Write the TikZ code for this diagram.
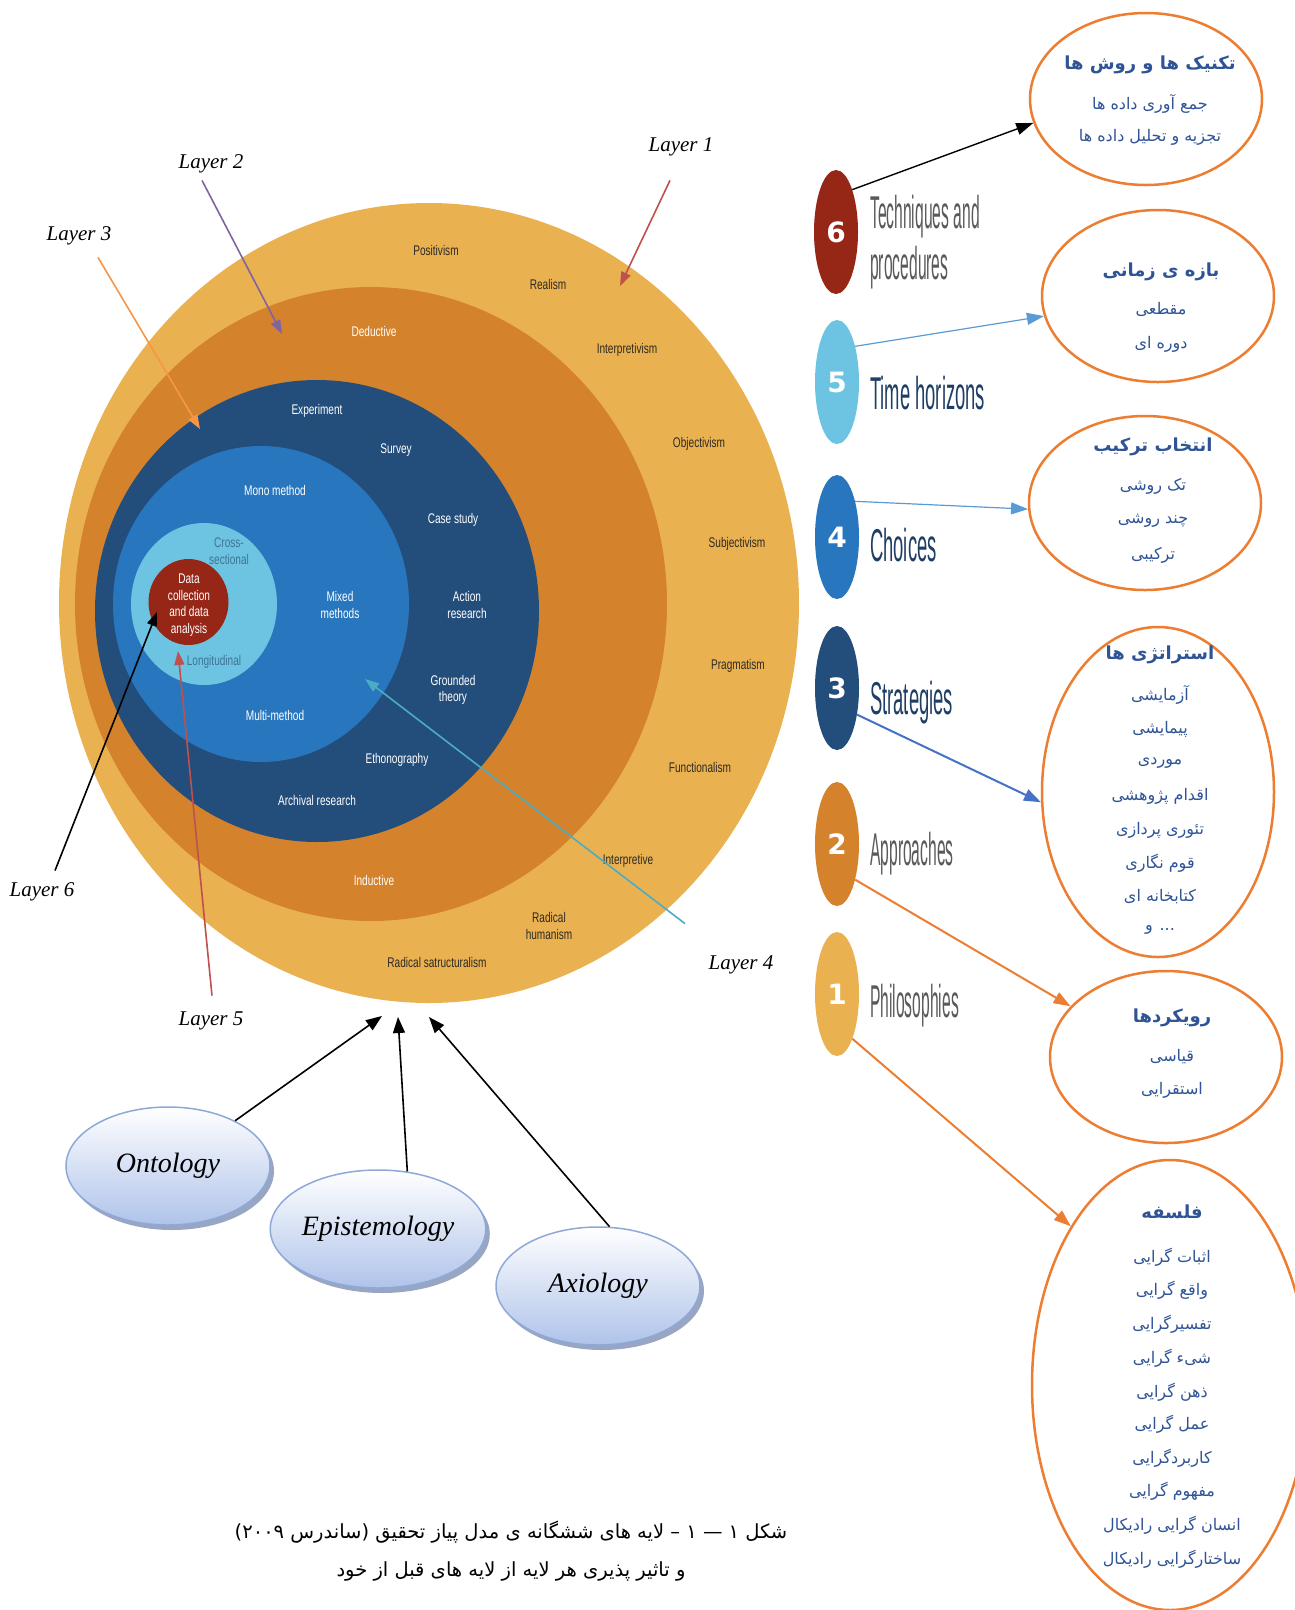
\documentclass[tikz,border=0pt]{standalone}
\usepackage{fontspec}
\setmainfont{Liberation Serif}
\newfontfamily\onionfont[FakeStretch=0.72]{Liberation Sans}
\newfontfamily\graystepfont[FakeStretch=0.34]{Liberation Sans}
\newfontfamily\bluestepfont[FakeStretch=0.40]{Liberation Sans}
\newfontfamily\digitfont{DejaVu Sans}
\newfontfamily\persianfont[Script=Arabic]{DejaVu Sans}
\TeXXeTstate=1
\usetikzlibrary{shapes.geometric,arrows.meta,shadows}

% onion layers
\definecolor{layerA}{HTML}{E9B150}
\definecolor{layerB}{HTML}{D4822C}
\definecolor{layerC}{HTML}{234D7A}
\definecolor{layerD}{HTML}{2876BE}
\definecolor{layerE}{HTML}{6DC4E2}
\definecolor{layerF}{HTML}{962616}
\definecolor{darktext}{HTML}{2E2A24}
\definecolor{paletext}{HTML}{3D7494}
% layer pointers
\definecolor{arrA}{HTML}{C0504D}
\definecolor{arrB}{HTML}{8064A2}
\definecolor{arrC}{HTML}{F79646}
\definecolor{arrD}{HTML}{4BACC6}
% side labels and boxes
\definecolor{stepgray}{HTML}{5A5A5A}
\definecolor{stepblue}{HTML}{1F3E66}
\definecolor{boxorange}{HTML}{ED7D31}
\definecolor{fablue}{HTML}{2F5496}
\definecolor{linkblue}{HTML}{5B9BD5}
\definecolor{linkblueB}{HTML}{4472C4}
% ontology ellipses
\definecolor{ellborder}{HTML}{8EA9D8}
\definecolor{ellbottom}{HTML}{AFC3EA}
\definecolor{ellshadow}{HTML}{7F90B5}

\newcommand\rtlline[1]{\beginR #1\endR}
% parentheses set in a left-to-right font so they keep their drawn shape
\newcommand\lpar{\hbox{\digitfont (}}
\newcommand\rpar{\hbox{\digitfont )}}

\begin{document}
\begin{tikzpicture}[x=1pt,y=-1pt,
  layer/.style={ellipse,inner sep=0pt,draw=none},
  onion/.style={font=\onionfont\fontsize{14}{16.5}\selectfont,align=center,inner sep=0pt},
  ondark/.style={onion,text=darktext},
  onwhite/.style={onion,text=white},
  onpale/.style={onion,text=paletext},
  layerlbl/.style={font=\itshape\fontsize{21}{24}\selectfont,inner sep=0pt},
  ptr/.style={line width=1.6pt,-{Triangle[length=14pt,width=10pt]}},
  numb/.style={ellipse,inner sep=0pt,minimum width=44pt,minimum height=124pt,
    text=white,font=\digitfont\bfseries\fontsize{28}{28}\selectfont},
  graystep/.style={anchor=base west,inner sep=0pt,text=stepgray,
    font=\graystepfont\fontsize{46}{46}\selectfont},
  bluestep/.style={anchor=base west,inner sep=0pt,text=stepblue,
    font=\bluestepfont\fontsize{46}{46}\selectfont},
  pbox/.style={ellipse,inner sep=0pt,draw=boxorange,line width=2.5pt},
  fatitle/.style={inner sep=0pt,text=fablue,
    font=\persianfont\bfseries\fontsize{18}{22}\selectfont},
  faitem/.style={inner sep=0pt,text=fablue,
    font=\persianfont\fontsize{16}{20}\selectfont},
  link/.style={-{Triangle[length=17pt,width=12pt]}},
  ology/.style={ellipse,minimum width=204pt,minimum height=118pt,inner sep=0pt,
    draw=ellborder,line width=1.5pt,top color=white,bottom color=ellbottom,
    drop shadow={shadow xshift=4pt,shadow yshift=-5pt,fill=ellshadow,opacity=0.8},
    font=\itshape\fontsize{28}{30}\selectfont},
  caption/.style={inner sep=0pt,font=\persianfont\fontsize{19.5}{24}\selectfont}
]
\useasboundingbox (0,0) rectangle (1295,1610);
\fill[white] (0,0) rectangle (1295,1610);

% ---------- the research onion ----------
\node[layer,fill=layerA,minimum width=740pt,minimum height=800pt] (L1) at (429,603) {};
\node[layer,fill=layerB,minimum width=592pt,minimum height=634pt] (L2) at (371,604) {};
\node[layer,fill=layerC,minimum width=444pt,minimum height=462pt] (L3) at (317,611) {};
\node[layer,fill=layerD,minimum width=296pt,minimum height=316pt] (L4) at (261,604) {};
\node[layer,fill=layerE,minimum width=146pt,minimum height=162pt] (L5) at (204,604) {};
\node[layer,fill=layerF,minimum width=80pt,minimum height=86pt] (L6) at (188.5,602) {};

% philosophies
\node[ondark] (positivism) at (436,250) {Positivism};
\node[ondark] (realism) at (548,284) {Realism};
\node[ondark] (interpretivism) at (627,350) {Interpretivism};
\node[ondark] (objectivism) at (699,444) {Objectivism};
\node[ondark] (subjectivism) at (737,544) {Subjectivism};
\node[ondark] (pragmatism) at (738,666) {Pragmatism};
\node[ondark] (functionalism) at (700,767) {Functionalism};
\node[ondark] (interpretive) at (628,861) {Interpretive};
\node[ondark] (humanism) at (549,926) {Radical\\humanism};
\node[ondark] (structuralism) at (437,962) {Radical satructuralism};
% approaches
\node[onwhite] (deductive) at (374,331) {Deductive};
\node[onwhite] (inductive) at (374,880) {Inductive};
% strategies
\node[onwhite] (experiment) at (317,411) {Experiment};
\node[onwhite] (survey) at (396,450) {Survey};
\node[onwhite] (casestudy) at (453,520) {Case study};
\node[onwhite] (action) at (467,605) {Action\\research};
\node[onwhite] (grounded) at (453,690) {Grounded\\theory};
\node[onwhite] (ethno) at (397,760) {Ethonography};
\node[onwhite] (archival) at (317,800) {Archival research};
% choices
\node[onwhite] (mono) at (275,490) {Mono method};
\node[onwhite] (mixed) at (340,605) {Mixed\\methods};
\node[onwhite] (multi) at (275,715) {Multi-method};
% time horizons
\node[onpale] (cross) at (229,551) {Cross-\\sectional};
\node[onpale] (longi) at (214,662) {Longitudinal};
% techniques
\node[onwhite] (datacoll) at (189,605) {Data\\collection\\and data\\analysis};

% ---------- layer pointers ----------
\coordinate (tip1) at (620,286);
\coordinate (tip2) at (282,334);
\coordinate (tip3) at (200,429);
\coordinate (tip4) at (365,679);
\coordinate (tip5) at (178,651);
\coordinate (tip6) at (157,612);
\node[layerlbl] (lay1) at (681,147) {Layer 1};
\node[layerlbl] (lay2) at (211,164) {Layer 2};
\node[layerlbl] (lay3) at (79,236) {Layer 3};
\node[layerlbl] (lay4) at (741,965) {Layer 4};
\node[layerlbl] (lay5) at (211,1021) {Layer 5};
\node[layerlbl] (lay6) at (42,892) {Layer 6};
\draw[ptr,arrA] ([xshift=-11pt,yshift=-24pt]lay1.south) -- (tip1);
\draw[ptr,arrB] ([xshift=-9pt,yshift=-7pt]lay2.south) -- (tip2);
\draw[ptr,arrC] ([xshift=19pt,yshift=-12pt]lay3.south) -- (tip3);
\draw[ptr,arrD] ([xshift=-56pt,yshift=32pt]lay4.north) -- (tip4);
\draw[ptr,arrA] ([xshift=1pt,yshift=16pt]lay5.north) -- (tip5);
\draw[ptr,black] ([xshift=13pt,yshift=12pt]lay6.north) -- (tip6);

% ---------- ontology, epistemology, axiology ----------
\node[ology] (onto) at (168,1166) {Ontology};
\node[ology] (epis) at (378,1229) {Epistemology};
\node[ology] (axio) at (598,1286) {Axiology};
\coordinate (b1) at (382,1016);
\coordinate (b2) at (398,1017);
\coordinate (b3) at (429,1017);
\draw[line width=1.6pt,-{Triangle[length=16pt,width=12pt]}] (onto.34) -- (b1);
\draw[line width=1.6pt,-{Triangle[length=16pt,width=12pt]}] (epis.63) -- (b2);
\draw[line width=1.6pt,-{Triangle[length=16pt,width=12pt]}] (axio.79) -- (b3);

% ---------- numbered layers ----------
\node[numb,fill=layerF] (n6) at (836,232) {6};
\node[numb,fill=layerE] (n5) at (837,382) {5};
\node[numb,fill=layerD] (n4) at (837,537) {4};
\node[numb,fill=layerC] (n3) at (837,688) {3};
\node[numb,fill=layerB] (n2) at (837,844) {2};
\node[numb,fill=layerA] (n1) at (837,994) {1};
\node[graystep] (s6a) at (870,228) {Techniques and};
\node[graystep] (s6b) at (870,279) {procedures};
\node[bluestep] (s5) at (870,409) {Time horizons};
\node[bluestep] (s4) at (870,561) {Choices};
\node[bluestep] (s3) at (870,714) {Strategies};
\node[graystep] (s2) at (870,865) {Approaches};
\node[graystep] (s1) at (870,1017) {Philosophies};

% ---------- Persian summaries ----------
\node[pbox,minimum width=232pt,minimum height=172pt] (p6) at (1146,99) {};
\node[pbox,minimum width=232pt,minimum height=172pt] (p5) at (1158,296) {};
\node[pbox,minimum width=232pt,minimum height=174pt] (p4) at (1145,503) {};
\node[pbox,minimum width=232pt,minimum height=330pt] (p3) at (1158,792) {};
\node[pbox,minimum width=232pt,minimum height=172pt] (p2) at (1166,1057) {};
\node[pbox,minimum width=276pt,minimum height=450pt] (p1) at (1170,1385) {};

\node[fatitle] (p6t) at (1150,65) {\rtlline{تکنیک ها و روش ها}};
\node[faitem] (p6a) at (1150,104) {\rtlline{جمع آوری داده ها}};
\node[faitem] (p6b) at (1150,137) {\rtlline{تجزیه و تحلیل داده ها}};

\node[fatitle] (p5t) at (1161,272) {\rtlline{بازه ی زمانی}};
\node[faitem] (p5a) at (1161,309) {\rtlline{مقطعی}};
\node[faitem] (p5b) at (1161,344) {\rtlline{دوره ای}};

\node[fatitle] (p4t) at (1153,447) {\rtlline{انتخاب ترکیب}};
\node[faitem] (p4a) at (1153,486) {\rtlline{تک روشی}};
\node[faitem] (p4b) at (1153,521) {\rtlline{چند روشی}};
\node[faitem] (p4c) at (1153,555) {\rtlline{ترکیبی}};

\node[fatitle] (p3t) at (1160,655) {\rtlline{استراتژی ها}};
\node[faitem] (p3a) at (1160,695) {\rtlline{آزمایشی}};
\node[faitem] (p3b) at (1160,729) {\rtlline{پیمایشی}};
\node[faitem] (p3c) at (1160,763) {\rtlline{موردی}};
\node[faitem] (p3d) at (1160,796) {\rtlline{اقدام پژوهشی}};
\node[faitem] (p3e) at (1160,830) {\rtlline{تئوری پردازی}};
\node[faitem] (p3f) at (1160,863) {\rtlline{قوم نگاری}};
\node[faitem] (p3g) at (1160,897) {\rtlline{کتابخانه ای}};
\node[faitem] (p3h) at (1160,930) {\rtlline{... و}};

\node[fatitle] (p2t) at (1172,1018) {\rtlline{رویکردها}};
\node[faitem] (p2a) at (1172,1057) {\rtlline{قیاسی}};
\node[faitem] (p2b) at (1172,1090) {\rtlline{استقرایی}};

\node[fatitle] (p1t) at (1172,1212) {\rtlline{فلسفه}};
\node[faitem] (p1a) at (1172,1257) {\rtlline{اثبات گرایی}};
\node[faitem] (p1b) at (1172,1290) {\rtlline{واقع گرایی}};
\node[faitem] (p1c) at (1172,1324) {\rtlline{تفسیرگرایی}};
\node[faitem] (p1d) at (1172,1358) {\rtlline{شیء گرایی}};
\node[faitem] (p1e) at (1172,1392) {\rtlline{ذهن گرایی}};
\node[faitem] (p1f) at (1172,1424) {\rtlline{عمل گرایی}};
\node[faitem] (p1g) at (1172,1458) {\rtlline{کاربردگرایی}};
\node[faitem] (p1h) at (1172,1491) {\rtlline{مفهوم گرایی}};
\node[faitem] (p1i) at (1172,1525) {\rtlline{انسان گرایی رادیکال}};
\node[faitem] (p1j) at (1172,1559) {\rtlline{ساختارگرایی رادیکال}};

% ---------- links from the numbered layers ----------
\draw[link,black,line width=1.4pt] (n6.69) -- (p6.192);
\draw[link,linkblue,line width=1.2pt] (n5.63) -- (p5.190);
\draw[link,linkblue,line width=1.2pt] (n4.63) -- (p4.183);
\draw[link,linkblueB,line width=2pt] (n3.-53) -- (p3.185);
\draw[link,boxorange,line width=2pt] (n2.-63) -- (p2.152);
\draw[link,boxorange,line width=2pt] (n1.-71) -- (p1.122);

% ---------- caption ----------
\node[caption] (cap1) at (511,1532) {\rtlline{شکل ۱ — ۱ – لایه های ششگانه ی مدل پیاز تحقیق \rpar ساندرس ۲۰۰۹\lpar}};
\node[caption] (cap2) at (511,1571) {\rtlline{و تاثیر پذیری هر لایه از لایه های قبل از خود}};
\end{tikzpicture}
\end{document}
